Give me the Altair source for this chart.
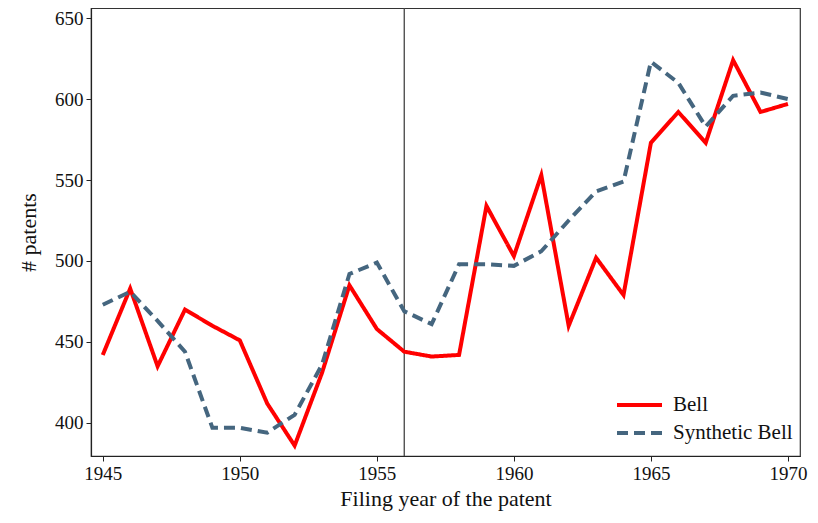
import altair as alt
import pandas as pd

years = list(range(1945, 1971))
bell = [442, 483, 435, 470, 460, 451, 412, 386, 431, 485, 458, 444, 441, 442,
        534, 503, 553, 460, 502, 479, 573, 592, 573, 624, 592, 597]
synthetic = [473, 481, 463, 444, 397, 397, 394, 405, 436, 492, 499, 469, 461, 498,
             498, 497, 506, 525, 543, 549, 623, 610, 583, 602, 604, 600]
series_names = ["Bell", "Synthetic Bell"]
treatment_year = [1956]
x_ticks = [1945, 1950, 1955, 1960, 1965, 1970]
y_ticks = [400, 450, 500, 550, 600, 650]

df = pd.DataFrame({
    "year": years * 2,
    "value": bell + synthetic,
    "series": [series_names[0]] * len(years) + [series_names[1]] * len(years),
})
vdf = pd.DataFrame({"year": treatment_year})

FONT = "Liberation Serif"

x_scale = alt.Scale(domain=[1944.57, 1970.44], nice=False, zero=False)
y_scale = alt.Scale(domain=[379.6, 656.2], nice=False, zero=False)

legend = alt.Legend(title=None, orient="none", legendX=524, legendY=383,
                    symbolType="stroke", symbolSize=2025,
                    symbolStrokeWidth=4, labelFontSize=21,
                    labelFont=FONT, labelColor="#111", rowPadding=0,
                    clipHeight=28, labelOffset=9, padding=0)

lines = alt.Chart(df).mark_line(strokeWidth=4, strokeCap="butt", strokeJoin="miter").encode(
    x=alt.X("year:Q", scale=x_scale,
            axis=alt.Axis(values=x_ticks, format="d", title="Filing year of the patent",
                          grid=False, tickSize=5, labelPadding=3, titlePadding=5)),
    y=alt.Y("value:Q", scale=y_scale,
            axis=alt.Axis(values=y_ticks, format="d", title="# patents", grid=False,
                          tickSize=5, labelPadding=3, titlePadding=14)),
    color=alt.Color("series:N",
                    scale=alt.Scale(domain=series_names, range=["#ff0000", "#45667f"]),
                    legend=legend),
    strokeDash=alt.StrokeDash("series:N",
                              scale=alt.Scale(domain=series_names, range=[[1, 0], [11, 6]]),
                              legend=legend),
)

vline = alt.Chart(vdf).mark_rule(color="#444", strokeWidth=1.3).encode(
    x=alt.X("year:Q", scale=x_scale)
)

chart = alt.layer(vline, lines).properties(
    width=709, height=448,
    autosize=alt.AutoSizeParams(type="none"),
    padding={"left": 83, "top": 0, "right": 10, "bottom": 59},
).configure_view(
    stroke="#333", strokeWidth=1.2
).configure_axis(
    labelFont=FONT, titleFont=FONT, labelFontSize=19, titleFontSize=22,
    labelColor="#111", titleColor="#111", titleFontWeight="normal",
    domainColor="#222", tickColor="#222", domainWidth=1.2, tickWidth=1
)

chart.save("out.html", embed_options={"renderer": "svg", "actions": False})
